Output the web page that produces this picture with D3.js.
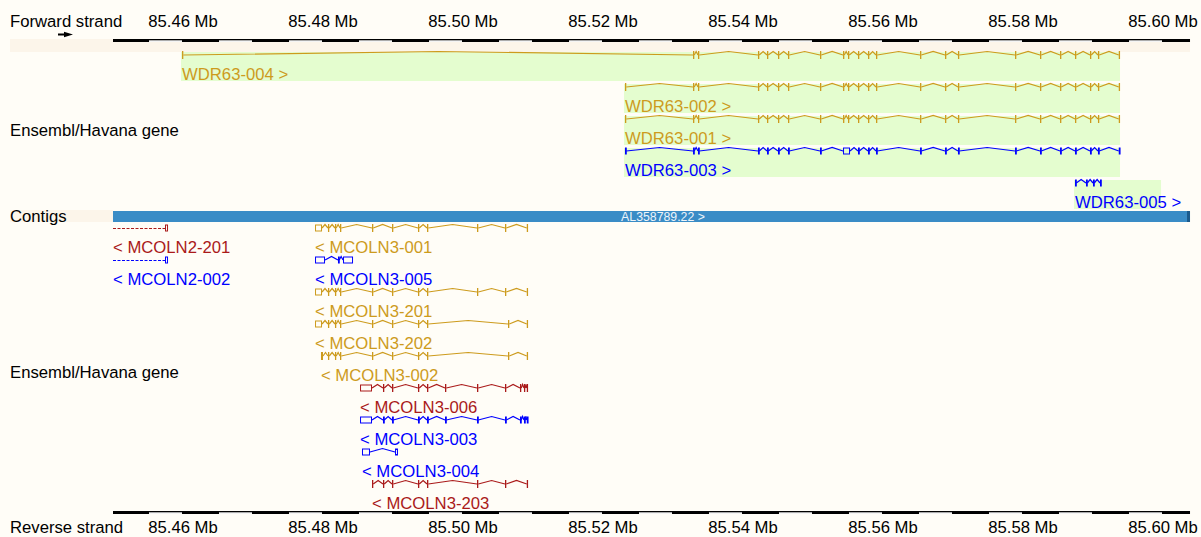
<!DOCTYPE html>
<html><head><meta charset="utf-8">
<script src="https://cdn.jsdelivr.net/npm/d3@7"></script>
<style>
body{margin:0;background:#fffdf7}
svg{display:block}
text{font-family:"Liberation Sans",Arial,Helvetica,sans-serif}
</style>
</head><body>
<svg id="c" width="1201" height="537"></svg>
<script>
// ---------- DATA ----------
const viewRange = [85.45, 85.60386];           // Mb shown
const tickValues = [85.46, 85.48, 85.50, 85.52, 85.54, 85.56, 85.58, 85.60];
const tickLabels = ["85.46 Mb","85.48 Mb","85.50 Mb","85.52 Mb","85.54 Mb","85.56 Mb","85.58 Mb","85.60 Mb"];
const trackLabels = ["Forward strand","Ensembl/Havana gene","Contigs","Ensembl/Havana gene","Reverse strand"];

const contigNames  = ["AL358789.22", ""];
const contigStarts = [85.40000, 85.60343];
const contigEnds   = [85.60343, 85.70000];

// WDR63 exons shared by the coding transcripts [start, end, coding]
const wdr63Shared = [
 [85.53286,85.53304,1],[85.53357,85.53375,1],[85.54214,85.54232,1],[85.54343,85.54361,1],
 [85.54500,85.54518,1],[85.54643,85.54661,1],[85.55100,85.55118,1],[85.55429,85.55447,1],
 [85.55500,85.55518,1],[85.55643,85.55661,1],[85.55786,85.55804,1],[85.55900,85.55918,1],
 [85.56529,85.56547,1],[85.56886,85.56904,1],[85.57071,85.57089,1],[85.57886,85.57904,1],
 [85.58243,85.58261,1],[85.58529,85.58547,1],[85.58743,85.58761,1],[85.58957,85.58975,1],
 [85.59071,85.59089,1],[85.59368,85.59386,1]];

const forwardNames    = ["WDR63-004","WDR63-002","WDR63-001","WDR63-003","WDR63-005"];
const forwardBiotypes = ["merged","merged","merged","noncoding","noncoding"];
const forwardExons = [
 [[85.45986,85.46004,1]].concat(wdr63Shared),
 [[85.52314,85.52332,1]].concat(wdr63Shared),
 [[85.52314,85.52332,1]].concat(wdr63Shared),
 [[85.52314,85.52332,0],[85.53286,85.53304,0],[85.53357,85.53375,0],[85.54214,85.54232,0],[85.54343,85.54361,0],
  [85.54500,85.54518,0],[85.54643,85.54661,0],[85.55100,85.55118,0],[85.55429,85.55529,0],
  [85.55643,85.55661,0],[85.55786,85.55804,0],[85.55900,85.55918,0],[85.56529,85.56547,0],
  [85.56886,85.56904,0],[85.57071,85.57089,0],[85.57886,85.57904,0],[85.58243,85.58261,0],
  [85.58529,85.58547,0],[85.58743,85.58761,0],[85.58957,85.58975,0],[85.59071,85.59089,0],[85.59368,85.59386,0]],
 [[85.58743,85.58761,0],[85.58900,85.58918,0],[85.59000,85.59018,0],[85.59100,85.59118,0]]
];
const highlightGene = "WDR63";

const reverseNames    = ["MCOLN2-201","MCOLN2-002","MCOLN3-001","MCOLN3-005","MCOLN3-201","MCOLN3-202",
                         "MCOLN3-002","MCOLN3-006","MCOLN3-003","MCOLN3-004","MCOLN3-203"];
const reverseBiotypes = ["ensembl","noncoding","merged","noncoding","merged","merged",
                         "merged","ensembl","noncoding","noncoding","ensembl"];
const reverseExons = [
 [[85.43000,85.43020,1],[85.45743,85.45786,0]],
 [[85.43000,85.43020,0],[85.45743,85.45786,0]],
 [[85.47886,85.47986,0],[85.48071,85.48089,1],[85.48171,85.48189,1],[85.48243,85.48261,1],[85.48700,85.48718,1],
  [85.48986,85.49004,1],[85.49357,85.49375,1],[85.49486,85.49504,1],[85.50200,85.50218,1],[85.50600,85.50618,1],[85.50911,85.50929,1]],
 [[85.47886,85.48029,0],[85.48214,85.48232,0],[85.48286,85.48429,0]],
 [[85.47886,85.47986,0],[85.48071,85.48089,1],[85.48171,85.48189,1],[85.48243,85.48261,1],[85.48700,85.48718,1],
  [85.48986,85.49004,1],[85.49357,85.49375,1],[85.49486,85.49504,1],[85.50200,85.50218,1],[85.50600,85.50618,1],[85.50911,85.50929,1]],
 [[85.47886,85.47986,0],[85.48071,85.48089,1],[85.48171,85.48189,1],[85.48243,85.48261,1],[85.48700,85.48718,1],
  [85.48986,85.49004,1],[85.49357,85.49375,1],[85.49486,85.49504,1],[85.50643,85.50661,1],[85.50911,85.50929,1]],
 [[85.47971,85.48000,1],[85.48071,85.48089,1],[85.48171,85.48189,1],[85.48243,85.48261,1],[85.48700,85.48718,1],
  [85.48986,85.49004,1],[85.49357,85.49375,1],[85.49486,85.49504,1],[85.50643,85.50661,1],[85.50911,85.50929,1]],
 [[85.48529,85.48700,0],[85.48857,85.48875,1],[85.48986,85.49004,1],[85.49357,85.49375,1],[85.49486,85.49504,1],
  [85.49743,85.49761,1],[85.50200,85.50218,1],[85.50600,85.50618,1],[85.50814,85.50832,1],[85.50871,85.50889,1],[85.50911,85.50929,1]],
 [[85.48529,85.48700,0],[85.48857,85.48875,0],[85.48986,85.49004,0],[85.49357,85.49375,0],[85.49486,85.49504,0],
  [85.49743,85.49761,0],[85.50200,85.50218,0],[85.50600,85.50618,0],[85.50814,85.50832,0],[85.50871,85.50889,0],[85.50911,85.50929,0]],
 [[85.48557,85.48671,0],[85.49029,85.49071,0]],
 [[85.48700,85.48718,1],[85.48857,85.48875,1],[85.48986,85.49004,1],[85.49357,85.49375,1],[85.49486,85.49504,1],
  [85.50200,85.50218,1],[85.50600,85.50618,1],[85.50911,85.50929,1]]
];

// ---------- STYLE ----------
const colours = {merged:"#cd9b1d", ensembl:"#aa1a1a", noncoding:"#0000ff"};
const BG="#fffdf7", BAND="#fcf5ea", GREEN="#e4fdcf", CONTIG=["#3a8cc6","#1b5a8c"];
const FONT=16.7;

const svg=d3.select("#c");
const x=d3.scaleLinear().domain([85.45,85.60]).range([113,1163]);
const X0=x(viewRange[0]), X1=x(viewRange[1]);

svg.append("rect").attr("width",1201).attr("height",537).attr("fill",BG);
svg.append("rect").attr("x",10).attr("y",39).attr("width",X1-10).attr("height",13).attr("fill",BAND);
svg.append("rect").attr("x",10).attr("y",210).attr("width",X0-10).attr("height",12).attr("fill",BAND);

function ruler(y, labelY){
  const g=svg.append("g");
  g.append("rect").attr("x",X0).attr("y",y).attr("width",X1-X0).attr("height",3).attr("fill","#000");
  const segs=d3.range(viewRange[0],viewRange[1],0.005);
  g.selectAll("rect.seg").data(segs.filter((d,i)=>i%2===1)).join("rect")
    .attr("x",d=>x(d)+1).attr("y",y+1.3)
    .attr("width",d=>Math.min(x(d+0.005),X1)-x(d)-2).attr("height",1.7).attr("fill","#f4f4f4");
  g.selectAll("text").data(tickValues).join("text")
    .attr("x",d=>x(d)).attr("y",labelY).attr("text-anchor","middle")
    .attr("font-size",FONT).attr("fill","#000")
    .text((d,i)=>tickLabels[i]);
}
ruler(39,27);
ruler(511,533);

// track labels
const lab=[[trackLabels[0],27],[trackLabels[1],136],[trackLabels[2],222],[trackLabels[3],378],[trackLabels[4],533]];
svg.selectAll("text.tl").data(lab).join("text").attr("class","tl")
  .attr("x",10).attr("y",d=>d[1]).attr("font-size",FONT).attr("fill","#000").text(d=>d[0]);
// strand arrow
svg.append("path").attr("d","M58,33.6 L64,33.6 L64,31.8 L73,34.5 L64,37.2 L64,35.4 L58,35.4 Z").attr("fill","#000");

// contigs
contigNames.forEach((n,i)=>{
  const a=Math.max(x(contigStarts[i]),X0), b=Math.min(x(contigEnds[i]),X1);
  if(b<=a) return;
  svg.append("rect").attr("x",a).attr("y",211).attr("width",b-a).attr("height",11).attr("fill",CONTIG[i%2]);
  if(n){
    svg.append("text").attr("x",(a+b)/2+13).attr("y",220.5).attr("text-anchor","middle")
      .attr("font-size",12.3).attr("fill","#eef4fa").text(n+" >");
  }
});

// measure text
const meas=svg.append("text").attr("font-size",FONT).attr("visibility","hidden");
function tw(s){meas.text(s);return meas.node().getComputedTextLength();}

function drawStrand(names,bios,exons,baseY,forward){
  const rows=[];
  const gAll=svg.append("g");
  names.forEach((name,i)=>{
    const ex=exons[i];
    const label=forward?name+" >":"< "+name;
    const s=ex[0][0], e=ex[ex.length-1][1];
    const xs=Math.max(x(s),X0), xe=Math.min(x(e),X1);
    const lw=tw(label);
    const occ=[xs, Math.max(xe, xs+lw)];
    let r=0;
    while(rows[r] && rows[r].some(o=>!(occ[0]>o[1]+4 || occ[1]<o[0]-4))) r++;
    (rows[r]=rows[r]||[]).push(occ);
    const y=baseY+32*r;
    const col=colours[bios[i]];
    const g=gAll.append("g");
    if(name.startsWith(highlightGene)){
      g.append("rect").attr("x",xs-1).attr("y",y-3).attr("width",Math.max(xe,xs+lw*0.81)-xs+1)
        .attr("height",29).attr("fill",GREEN);
    }
    // introns
    for(let k=0;k<ex.length-1;k++){
      const a=x(ex[k][1]), b=x(ex[k+1][0]);
      if(a<X0){
        g.append("line").attr("x1",X0).attr("x2",b).attr("y1",y+0.5).attr("y2",y+0.5)
          .attr("stroke",col).attr("stroke-width",1).attr("stroke-dasharray","3,1.5");
      } else {
        g.append("path").attr("d",`M${a},${y} L${(a+b)/2},${y-3.5} L${b},${y}`)
          .attr("fill","none").attr("stroke",col).attr("stroke-width",1.2);
      }
    }
    // exons
    ex.forEach(d=>{
      const a=x(d[0]), b=x(d[1]);
      if(b<X0||a>X1) return;
      if(d[2]){
        g.append("rect").attr("x",a).attr("y",y-4).attr("width",Math.max(b-a,1.3)).attr("height",8).attr("fill",col);
      } else {
        g.append("rect").attr("x",a+0.5).attr("y",y-3).attr("width",Math.max(b-a-1,0.8)).attr("height",6)
          .attr("fill","none").attr("stroke",col).attr("stroke-width",1);
      }
    });
    g.append("text").attr("x",xs).attr("y",y+25).attr("font-size",FONT).attr("fill",col).text(label);
  });
}
drawStrand(forwardNames,forwardBiotypes,forwardExons,55,true);
drawStrand(reverseNames,reverseBiotypes,reverseExons,228,false);
meas.remove();
</script>
</body></html>
